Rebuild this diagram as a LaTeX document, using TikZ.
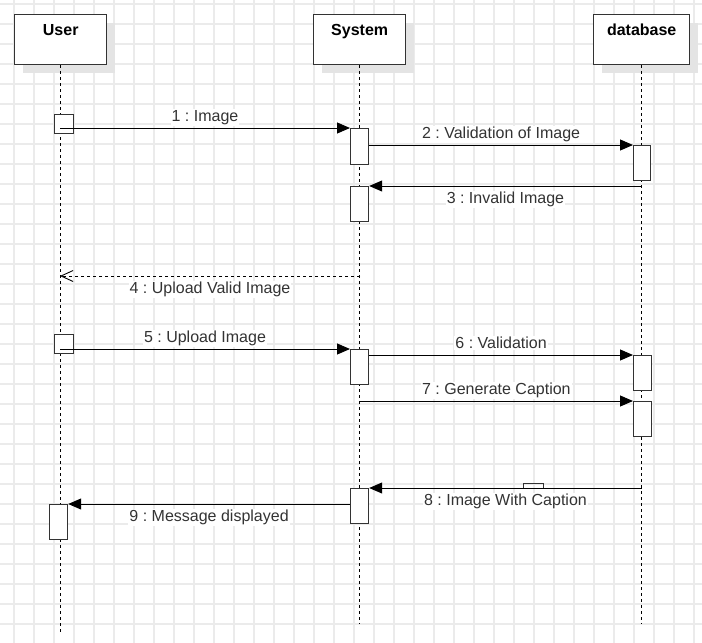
\documentclass[tikz,border=0pt]{standalone}
\usepackage{fontspec}
\setmainfont{Liberation Sans}
\frenchspacing
\usepackage{xcolor}
\definecolor{seqgrid}{HTML}{EBEBEB}
\definecolor{seqline}{HTML}{333333}
\definecolor{seqshadow}{HTML}{E4E4E4}
\usetikzlibrary{arrows.meta,shadows,calc}
\tikzset{
  seqhead/.style={draw=seqline,line width=1.4pt,fill=white,inner sep=0pt,minimum width=92pt,text height=20.7pt,text depth=29.3pt,font=\bfseries\fontsize{16}{18}\selectfont,drop shadow={shadow xshift=8pt,shadow yshift=-8pt,fill=seqshadow,opacity=1},anchor=north west},
  seqact/.style={draw=seqline,line width=1.2pt,fill=white,inner sep=0pt,minimum width=18pt,minimum height=35pt,anchor=north west},
  seqlife/.style={dash pattern=on 3pt off 3pt,line width=0.9pt},
  seqmsg/.style={-{Triangle[length=13pt,width=11pt]},line width=1pt},
  seqret/.style={-{Straight Barb[length=12pt,width=11pt]},dash pattern=on 3pt off 3pt,line width=0.9pt},
  seqlbl/.style={font=\fontsize{16}{18}\selectfont,fill=white,inner sep=1pt,anchor=base,text=seqline},
  seqlblup/.style={seqlbl,yshift=6.5pt},
  seqlbldn/.style={seqlbl,yshift=-17.5pt},
}

\begin{document}
\begin{tikzpicture}[x=1pt,y=-1pt]
 % image upload / caption sequence
\useasboundingbox (0,0) rectangle (702,643);
\foreach \gx in {14,34,...,694} \draw[seqgrid,line width=1.5pt] (\gx,0) -- (\gx,643);
\foreach \gy in {4,24,...,644} \draw[seqgrid,line width=1.5pt] (0,\gy) -- (702,\gy);
\node[seqhead] (user) at (14,14) {User};
\node[seqhead] (sys) at (313,14) {System};
\node[seqhead,minimum width=96pt] (db) at (593,14) {database};
\draw[seqlife] (user.south) -- ++(0,568);
\draw[seqlife] (sys.south) -- ++(0,559);
\draw[seqlife] (db.south) -- ++(0,559);
% activations
\node[seqact,minimum width=19pt,minimum height=19pt] (uA1) at (54,114) {};
\node[seqact,minimum height=36pt] (sA1) at (350,128) {};
\node[seqact,minimum width=17pt] (dA1) at (633,145) {};
\node[seqact] (sA2) at (350,186) {};
\node[seqact,minimum width=19pt,minimum height=19pt] (uA2) at (54,334) {};
\node[seqact] (sA3) at (350,349) {};
\node[seqact] (dA2) at (633,355) {};
\node[seqact] (dA3) at (633,401) {};
\node[seqact] (sA4) at (350,488) {};
\node[seqact] (uA3) at (49,504) {};
% messages
\coordinate (m1) at (60,128);
\coordinate (r4s) at (360,276);
\coordinate (r4e) at (60,276);
\coordinate (m5) at (60,349);
\draw[seqmsg] (m1) -- (sA1.north west) node[midway,seqlblup]{1 : Image};
\draw[seqmsg] (sA1.east |- dA1.north) -- (dA1.north west) node[midway,seqlblup]{2 : Validation of Image};
\draw[seqmsg] (db.south |- sA2.north) -- (sA2.north east) node[midway,seqlbldn]{3 : Invalid Image};
\draw[seqret] (r4s) -- (r4e) node[midway,seqlbldn]{4 : Upload Valid Image};
\draw[seqmsg] (m5) -- (sA3.north west) node[midway,seqlblup]{5 : Upload Image};
\draw[seqmsg] (sA3.east |- dA2.north) -- (dA2.north west) node[midway,seqlblup]{6 : Validation};
\draw[seqmsg] (sys.south |- dA3.north) -- (dA3.north west) node[midway,seqlblup]{7 : Generate Caption};
\draw[seqmsg] (db.south |- sA4.north) -- (sA4.north east) node[midway,seqlbldn]{8 : Image With Caption};
\draw[line width=1pt,seqline] (523,488) -- ++(0,-5) -- ++(20,0) -- ++(0,5);
\draw[seqmsg] (sA4.west |- uA3.north) -- (uA3.north east) node[midway,seqlbldn]{9 : Message displayed};
\end{tikzpicture}
\end{document}
